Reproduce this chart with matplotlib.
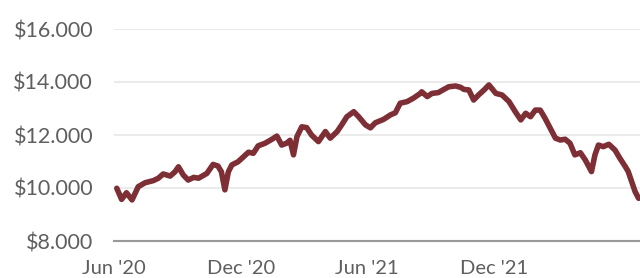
import matplotlib

matplotlib.use('Agg')
import matplotlib.pyplot as plt
import matplotlib.ticker as mticker
import pandas as pd

dates = ['2020-06-05', '2020-06-12', '2020-06-19', '2020-06-27', '2020-07-06',
         '2020-07-16', '2020-07-28', '2020-08-04', '2020-08-11', '2020-08-21',
         '2020-08-28', '2020-09-02', '2020-09-09', '2020-09-16', '2020-09-24',
         '2020-10-01', '2020-10-13', '2020-10-22', '2020-10-29', '2020-11-03',
         '2020-11-08', '2020-11-13', '2020-11-18', '2020-11-27', '2020-12-05',
         '2020-12-12', '2020-12-19', '2020-12-26', '2021-01-05', '2021-01-15',
         '2021-01-22', '2021-01-29', '2021-02-05', '2021-02-10', '2021-02-15',
         '2021-02-20', '2021-02-27', '2021-03-06', '2021-03-13', '2021-03-23',
         '2021-04-02', '2021-04-09', '2021-04-19', '2021-04-26', '2021-05-03',
         '2021-05-13', '2021-05-20', '2021-05-30', '2021-06-06', '2021-06-13',
         '2021-06-25', '2021-07-05', '2021-07-12', '2021-07-19', '2021-07-29',
         '2021-08-07', '2021-08-17', '2021-08-19', '2021-08-27', '2021-09-03',
         '2021-09-12', '2021-09-20', '2021-09-27', '2021-10-07', '2021-10-14',
         '2021-10-19', '2021-10-26', '2021-11-02', '2021-11-09', '2021-11-17',
         '2021-11-24', '2021-12-04', '2021-12-13', '2021-12-23', '2022-01-01',
         '2022-01-09', '2022-01-16', '2022-01-23', '2022-01-30', '2022-02-06',
         '2022-02-13', '2022-02-28', '2022-03-07', '2022-03-14', '2022-03-21',
         '2022-03-28', '2022-04-05', '2022-04-12', '2022-04-21', '2022-04-26',
         '2022-05-01', '2022-05-08', '2022-05-16', '2022-05-25', '2022-06-01',
         '2022-06-09', '2022-06-13', '2022-06-18', '2022-06-23', '2022-06-28']
values = [9990, 9570, 9820, 9550, 10050,
          10200, 10280, 10370, 10530, 10450,
          10610, 10800, 10490, 10300, 10400,
          10370, 10550, 10890, 10830, 10610,
          9930, 10610, 10870, 10990, 11180,
          11350, 11310, 11590, 11690, 11840,
          11960, 11620, 11690, 11800, 11250,
          11940, 12310, 12280, 12000, 11750,
          12130, 11880, 12130, 12400, 12690,
          12880, 12690, 12380, 12270, 12460,
          12590, 12760, 12840, 13200, 13260,
          13390, 13570, 13630, 13450, 13570,
          13600, 13720, 13820, 13850, 13800,
          13720, 13700, 13320, 13510, 13700,
          13890, 13570, 13510, 13260, 12880,
          12570, 12820, 12690, 12940, 12940,
          12630, 11880, 11810, 11840, 11690,
          11250, 11330, 11060, 10620, 11250,
          11620, 11560, 11650, 11430, 11120,
          10800, 10620, 10240, 9860, 9610]
tick_dates = ['2020-06-01', '2020-12-01', '2021-06-01', '2021-12-01']
tick_labels = ["Jun '20", "Dec '20", "Jun '21", "Dec '21"]
y_ticks = [8000, 10000, 12000, 14000, 16000]

x = pd.to_datetime(dates)

plt.rcParams['font.family'] = ['Lato', 'DejaVu Sans']
fig = plt.figure(figsize=(6.4, 2.78), dpi=100)
ax = fig.add_axes([114 / 640, 37 / 278, 526 / 640, 212 / 278])

ax.plot(x, values, color='#7D2F35', lw=4.0, solid_capstyle='round',
        solid_joinstyle='round', clip_on=False, zorder=3)

ax.set_ylim(8000, 16000)
ax.set_xlim(pd.Timestamp('2020-06-01'), pd.Timestamp('2022-06-30'))
ax.set_yticks(y_ticks)
ax.yaxis.set_major_formatter(
    mticker.FuncFormatter(lambda v, p: '$' + f'{int(v):,}'.replace(',', '.')))
ax.set_xticks(pd.to_datetime(tick_dates))
ax.set_xticklabels(tick_labels)

ax.grid(axis='y', color='#ebebeb', lw=1.5)
ax.set_axisbelow(True)
for s in ['top', 'right', 'left']:
    ax.spines[s].set_visible(False)
ax.spines['bottom'].set_color('#999999')
ax.spines['bottom'].set_linewidth(1.5)
ax.tick_params(axis='both', length=0, colors='#5f5f5f')
ax.tick_params(axis='y', pad=15, labelsize=15.5)
ax.tick_params(axis='x', pad=14, labelsize=14.5)

fig.savefig('out.png', dpi=100)
